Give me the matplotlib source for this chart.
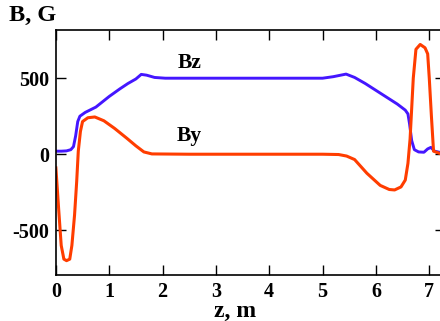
import matplotlib
matplotlib.use("Agg")
import matplotlib.pyplot as plt

# longitudinal field component
z_bz = [0.0, 0.1, 0.2, 0.28, 0.33, 0.37, 0.41, 0.45, 0.55, 0.75, 1.0, 1.2, 1.35, 1.5, 1.6,
        1.7, 1.85, 2.05, 3.0, 4.0, 5.0, 5.2, 5.44, 5.6, 5.8, 6.0, 6.2, 6.4, 6.55, 6.6,
        6.63, 6.67, 6.72, 6.8, 6.9, 6.97, 7.03, 7.1, 7.2]
bz = [20, 20, 22, 30, 50, 120, 215, 250, 275, 310, 380, 430, 465, 495, 525,
      520, 505, 500, 500, 500, 500, 510, 527, 505, 465, 420, 375, 330, 290, 265,
      200, 90, 30, 15, 13, 35, 45, 20, 12]

# transverse field component
z_by = [0.0, 0.05, 0.1, 0.15, 0.2, 0.26, 0.3, 0.35, 0.39, 0.42, 0.46, 0.5, 0.6, 0.73,
        0.9, 1.1, 1.33, 1.5, 1.65, 1.8, 2.5, 3.5, 4.5, 5.0, 5.3, 5.45, 5.6, 5.83,
        6.08, 6.25, 6.35, 6.47, 6.55, 6.6, 6.64, 6.7, 6.75, 6.83, 6.92, 6.97, 7.0,
        7.04, 7.08, 7.2]
by = [-90, -350, -600, -690, -700, -690, -600, -400, -180, 20, 150, 215, 240, 245,
      220, 170, 105, 55, 15, 2, 0, 0, 0, 0, -2, -12, -35, -125,
      -205, -232, -235, -215, -170, -60, 100, 500, 690, 722, 700, 660, 500,
      250, 20, 5]

x_ticks = [0, 1, 2, 3, 4, 5, 6, 7]
y_ticks = [-500, 0, 500]

blue = "#4416ff"
red = "#ff3d00"

plt.rcParams["font.family"] = ["Liberation Serif", "DejaVu Serif"]
plt.rcParams["font.weight"] = "bold"
plt.rcParams["axes.unicode_minus"] = False

fig = plt.figure(figsize=(4.4, 3.21), dpi=100)
ax = fig.add_axes([0.127, 0.143, 0.885, 0.764])

ax.plot(z_bz, bz, color=blue, lw=2.1)
ax.plot(z_by, by, color=red, lw=2.2)

ax.set_xlim(0, 7.3)
ax.set_ylim(-795, 818)
ax.set_xticks(x_ticks)
ax.set_yticks(y_ticks)
ax.tick_params(direction="in", length=7, width=1, top=True, right=True,
               labelsize=14.5, pad=5)
for lab in ax.get_xticklabels() + ax.get_yticklabels():
    lab.set_fontweight("bold")
for sp in ax.spines.values():
    sp.set_linewidth(1.2)

ax.text(2.5, 600, "Bz", fontsize=15.5, fontweight="bold", ha="center", va="center")
ax.text(2.5, 120, "By", fontsize=15.5, fontweight="bold", ha="center", va="center")

fig.text(0.075, 0.952, "B, G", fontsize=17.5, fontweight="bold", ha="center", va="center")
fig.text(0.535, 0.03, "z, m", fontsize=17, fontweight="bold", ha="center", va="center")

fig.savefig("out.png", dpi=100)
